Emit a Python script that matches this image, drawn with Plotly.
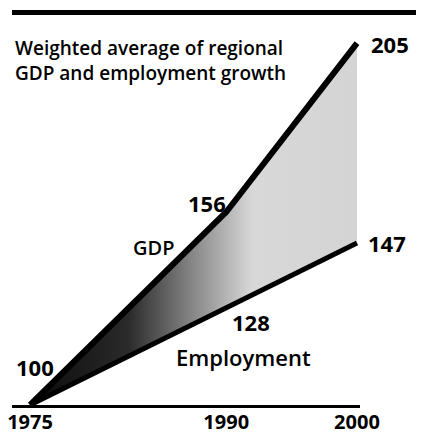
import plotly.graph_objects as go

years = [1975, 1990, 2000]
gdp = [100, 156, 205]
employment = [100, 128, 147]
tick_labels = ["1975", "1990", "2000"]
title_lines = ["Weighted average of regional", "GDP and employment growth"]

W, H = 421, 435
L, R, T, B = 12, 61, 30, 30
PW, PH = W - L - R, H - T - B


def px(x):
    return (x - L) / PW


def py(y):
    return (H - B - y) / PH


FONT = "Open Sans"

fig = go.Figure()
fig.add_trace(go.Scatter(x=years, y=employment, mode="lines",
                         line=dict(color="black", width=5), hoverinfo="skip"))
fig.add_trace(go.Scatter(x=years, y=gdp, mode="lines", fill="tonexty",
                         fillgradient=dict(type="horizontal",
                                           colorscale=[[0, "#0a0a0a"], [0.3, "#2a2a2a"],
                                                       [0.5, "#888888"], [0.68, "#d8d8d8"],
                                                       [1, "#d4d4d4"]]),
                         line=dict(color="black", width=6), hoverinfo="skip"))

ann = []


def label(text, x, y, size=22, weight=700, xanchor="center"):
    ann.append(dict(text=text, x=px(x), y=py(y),
                    xref="paper", yref="paper", showarrow=False, xanchor=xanchor,
                    yanchor="middle",
                    font=dict(family=FONT, size=size, color="black", weight=weight)))


label(str(gdp[2]), 390, 44)
label(str(employment[2]), 387, 243)
label(str(gdp[1]), 228, 203, xanchor="right")
label("GDP", 153, 247, size=20, weight=600)
label(str(employment[1]), 251, 322)
label("Employment", 243, 357, size=22, weight=600)
label(str(gdp[0]), 35, 367)
ann.append(dict(text=title_lines[0] + "<br>" + title_lines[1], x=px(13), y=py(33),
                xref="paper", yref="paper", showarrow=False, xanchor="left",
                yanchor="top", align="left",
                font=dict(family=FONT, size=19, color="black", weight=600)))

fig.update_layout(
    width=W, height=H, margin=dict(l=L, r=R, t=T, b=B, autoexpand=False),
    paper_bgcolor="white", plot_bgcolor="white", showlegend=False,
    annotations=ann,
    shapes=[dict(type="line", xref="paper", yref="paper", x0=px(12), x1=px(416),
                 y0=py(12.5), y1=py(12.5), line=dict(color="black", width=5))],
    xaxis=dict(range=[1973.62, 2000.23], showgrid=False, zeroline=False,
               showline=True, linecolor="black", linewidth=3, automargin=False,
               tickvals=years, ticktext=tick_labels, ticks="", ticklabelstandoff=-3,
               tickfont=dict(family=FONT, size=20, color="black", weight=700),
               fixedrange=True),
    yaxis=dict(range=[100, 208.8], visible=False, fixedrange=True, automargin=False),
)
fig.write_html("out.html", config={"displayModeBar": False, "staticPlot": True},
               post_script="document.body.style.margin='0';document.body.style.padding='0';document.body.style.overflow='hidden';")
